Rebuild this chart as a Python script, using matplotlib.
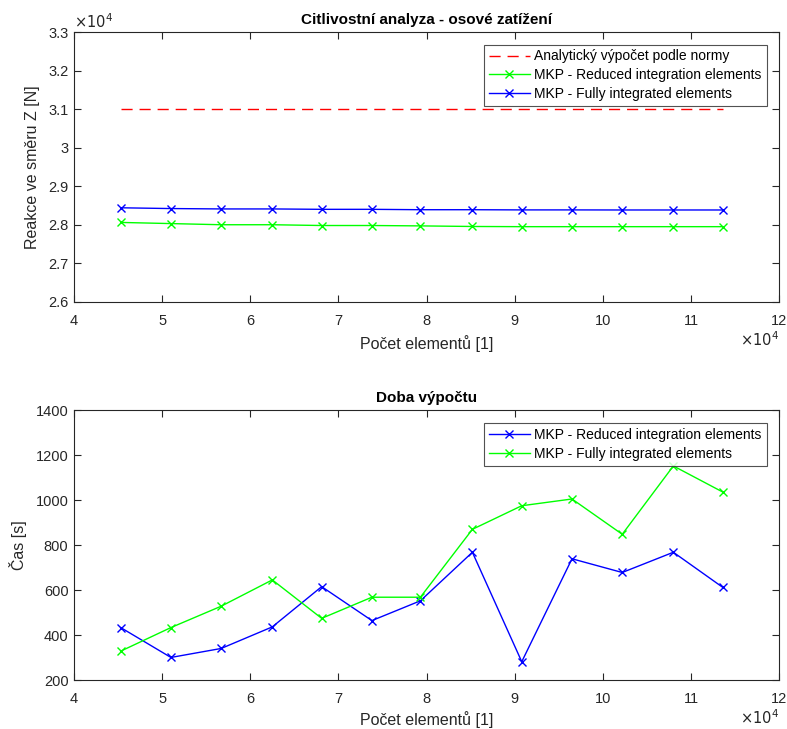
import matplotlib
matplotlib.use("Agg")
import matplotlib.pyplot as plt
from matplotlib.ticker import FuncFormatter, MultipleLocator

plt.rcParams['font.family'] = ['Liberation Sans', 'DejaVu Sans']

# ---- data ----
elements = [45300, 51000, 56700, 62500, 68100, 73800, 79300, 85200, 90800, 96500, 102200, 108000, 113600]
analytic = [31000] * len(elements)
reaction_reduced = [28060, 28030, 28000, 28000, 27980, 27980, 27970, 27955, 27950, 27950, 27950, 27950, 27950]
reaction_full = [28440, 28420, 28410, 28410, 28400, 28400, 28390, 28390, 28385, 28385, 28383, 28383, 28383]
time_reduced = [434, 301, 341, 437, 616, 465, 553, 769, 282, 740, 679, 769, 613]
time_full = [329, 434, 529, 646, 475, 569, 569, 871, 976, 1006, 849, 1153, 1037]

title_top = "Citlivostní analyza - osové zatížení"
title_bottom = "Doba výpočtu"
xlabel = "Počet elementů [1]"
ylabel_top = "Reakce ve směru Z [N]"
ylabel_bottom = "Čas [s]"

BLUE = (0, 0, 1)
GREEN = (0, 1, 0)
RED = (1, 0, 0)
AXC = (0.15, 0.15, 0.15)

fig = plt.figure(figsize=(7.87, 7.29), dpi=100)
ax1 = fig.add_axes([0.094, 0.586, 0.896, 0.370])
ax2 = fig.add_axes([0.094, 0.067, 0.896, 0.370])

def style(ax):
    for s in ax.spines.values():
        s.set_color(AXC)
        s.set_linewidth(0.8)
    ax.tick_params(direction='in', top=True, right=True, length=5, width=0.8,
                   colors=AXC, labelsize=10.5)
    ax.tick_params(axis='x', pad=8.5)
    ax.tick_params(axis='y', pad=4)

fmt = FuncFormatter(lambda v, p: "%g" % round(v / 1e4, 4))

# top plot
ax1.plot(elements, analytic, color=RED, lw=1, dashes=(8, 5), label="Analytický výpočet podle normy")
ax1.plot(elements, reaction_reduced, '-x', color=GREEN, lw=1, ms=5.5, label="MKP - Reduced integration elements")
ax1.plot(elements, reaction_full, '-x', color=BLUE, lw=1, ms=5.5, label="MKP - Fully integrated elements")
ax1.set_xlim(40000, 120000)
ax1.set_ylim(26000, 33000)
ax1.xaxis.set_major_locator(MultipleLocator(10000))
ax1.yaxis.set_major_locator(MultipleLocator(1000))
ax1.xaxis.set_major_formatter(fmt)
ax1.yaxis.set_major_formatter(fmt)
style(ax1)
ax1.set_title(title_top, fontsize=11, fontweight='bold', color='black', pad=6)
ax1.set_xlabel(xlabel, fontsize=11.5, color=AXC, labelpad=5.5)
ax1.set_ylabel(ylabel_top, fontsize=11.5, color=AXC, labelpad=6)
ax1.text(0.0, 1.005, r"$\times10^{4}$", transform=ax1.transAxes, fontsize=10.5,
         color=AXC, ha='left', va='bottom')
ax1.text(1.0, -0.14, r"$\times10^{4}$", transform=ax1.transAxes, fontsize=10.5,
         color=AXC, ha='right', va='center')
leg1 = ax1.legend(loc='upper right', fontsize=10, frameon=True, fancybox=False,
                  edgecolor=AXC, handlelength=3.0, borderaxespad=0.9,
                  labelspacing=0.35, handletextpad=0.3, borderpad=0.35)
leg1.get_frame().set_linewidth(0.8)

# bottom plot
ax2.plot(elements, time_reduced, '-x', color=BLUE, lw=1, ms=5.5, label="MKP - Reduced integration elements")
ax2.plot(elements, time_full, '-x', color=GREEN, lw=1, ms=5.5, label="MKP - Fully integrated elements")
ax2.set_xlim(40000, 120000)
ax2.set_ylim(200, 1400)
ax2.xaxis.set_major_locator(MultipleLocator(10000))
ax2.yaxis.set_major_locator(MultipleLocator(200))
ax2.xaxis.set_major_formatter(fmt)
style(ax2)
ax2.set_title(title_bottom, fontsize=11, fontweight='bold', color='black', pad=6)
ax2.set_xlabel(xlabel, fontsize=11.5, color=AXC, labelpad=4)
ax2.set_ylabel(ylabel_bottom, fontsize=11.5, color=AXC, labelpad=6)
ax2.text(1.0, -0.14, r"$\times10^{4}$", transform=ax2.transAxes, fontsize=10.5,
         color=AXC, ha='right', va='center')
leg2 = ax2.legend(loc='upper right', fontsize=10, frameon=True, fancybox=False,
                  edgecolor=AXC, handlelength=3.0, borderaxespad=0.9,
                  labelspacing=0.35, handletextpad=0.3, borderpad=0.35)
leg2.get_frame().set_linewidth(0.8)

fig.savefig("out.png", dpi=100)
